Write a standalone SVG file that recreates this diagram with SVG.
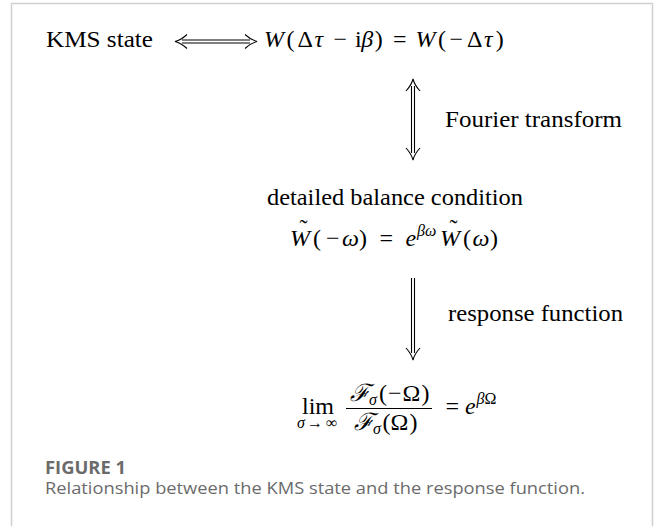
<svg xmlns="http://www.w3.org/2000/svg" width="656" height="526" viewBox="0 0 656 526">
<style>
.m{font-family:"Liberation Serif","DejaVu Serif",serif;font-size:24px;fill:#000}
.t{font-family:"Liberation Serif","DejaVu Serif",serif;font-size:23px;fill:#000}
.i{font-style:italic}
.s{font-size:16px}
.arr{fill:none;stroke:#000;stroke-width:1.1}
.cap{font-family:"Open Sans","Noto Sans",sans-serif;font-size:17px;fill:#6b6b6b}
</style>
<rect width="656" height="526" fill="#fff"/>
<path d="M11.5,530 V3.5 H652.5 V530" fill="none" stroke="#d0d0d0" stroke-width="1.5"/>
<g id="connectors">
  <g id="kms-eq-arrow">
    <path class="arr" d="M182,40 H250 M182,43 H250"/>
    <path class="arr" d="M187,34.5 Q181,40 175,41.5 Q181,43 187,48.5"/>
    <path class="arr" d="M245,34.5 Q251,40 257,41.5 Q251,43 245,48.5"/>
  </g>
  <g id="fourier-arrow">
    <path class="arr" d="M411.5,86 V153 M414.5,86 V153"/>
    <path class="arr" d="M406,91 Q411.5,85 413,79 Q414.5,85 420,91"/>
    <path class="arr" d="M406,148 Q411.5,154 413,160 Q414.5,154 420,148"/>
  </g>
  <g id="response-arrow">
    <path class="arr" d="M411.5,278 V353 M414.5,278 V353"/>
    <path class="arr" d="M406,348 Q411.5,354 413,360 Q414.5,354 420,348"/>
  </g>
</g>
<g id="kms-state">
  <text class="t" x="46" y="47" textLength="107" lengthAdjust="spacingAndGlyphs">KMS state</text>
</g>
<g id="kms-equation">
  <text class="m" y="47"><tspan class="i" x="264">W</tspan><tspan x="286.4">(</tspan><tspan x="297.5">Δ</tspan><tspan class="i" x="314.5">τ</tspan><tspan x="333.5">−</tspan><tspan x="355">i</tspan><tspan class="i" x="361.3">β</tspan><tspan x="374.7">)</tspan><tspan x="393">=</tspan><tspan class="i" x="415.5">W</tspan><tspan x="437.9">(</tspan><tspan x="449.6">−</tspan><tspan x="467">Δ</tspan><tspan class="i" x="484">τ</tspan><tspan x="495.7">)</tspan></text>
</g>
<g id="fourier-label">
  <text class="t" x="445" y="127" textLength="177" lengthAdjust="spacingAndGlyphs">Fourier transform</text>
</g>
<g id="detailed-balance">
  <text class="t" x="267" y="205" textLength="256" lengthAdjust="spacingAndGlyphs">detailed balance condition</text>
  <text class="m" y="246"><tspan class="i" x="290">W</tspan><tspan x="313">(</tspan><tspan x="326">−</tspan><tspan class="i" x="342">ω</tspan><tspan x="359">)</tspan><tspan x="379.5">=</tspan><tspan class="i" x="405.5">e</tspan><tspan class="i s" x="417" y="236">βω</tspan><tspan class="i" x="440" y="246">W</tspan><tspan x="463">(</tspan><tspan class="i" x="472.5">ω</tspan><tspan x="490">)</tspan></text>
  <text class="m" x="303.5" y="236" text-anchor="middle">˜</text>
  <text class="m" x="453.5" y="236" text-anchor="middle">˜</text>
</g>
<g id="response-label">
  <text class="t" x="448" y="321" textLength="175" lengthAdjust="spacingAndGlyphs">response function</text>
</g>
<g id="limit">
  <text class="m" x="318" y="414" text-anchor="middle">lim</text>
  <text class="m s" y="428"><tspan class="i" x="297">σ</tspan><tspan x="307">→</tspan><tspan x="326">∞</tspan></text>
  <text class="m" y="401"><tspan class="i" x="350">ℱ</tspan><tspan class="i s" x="369" y="405">σ</tspan><tspan x="379" y="401">(</tspan><tspan x="388">−</tspan><tspan x="402.5">Ω</tspan><tspan x="421.5">)</tspan></text>
  <line x1="346" y1="408.5" x2="432" y2="408.5" stroke="#000" stroke-width="1"/>
  <text class="m" y="430"><tspan class="i" x="354">ℱ</tspan><tspan class="i s" x="373" y="434">σ</tspan><tspan x="382.5" y="430">(</tspan><tspan x="390.5">Ω</tspan><tspan x="409.5">)</tspan></text>
  <text class="m" y="414"><tspan x="445.5">=</tspan><tspan class="i" x="465">e</tspan><tspan class="i s" x="476.5" y="404">β</tspan><tspan class="s" x="484.5">Ω</tspan></text>
</g>
<g id="caption">
  <text class="cap" x="45" y="474" font-weight="bold" fill="#7a7a7a" textLength="81" lengthAdjust="spacingAndGlyphs">FIGURE 1</text>
  <text class="cap" x="45" y="494" textLength="540" lengthAdjust="spacingAndGlyphs">Relationship between the KMS state and the response function.</text>
</g>
</svg>
